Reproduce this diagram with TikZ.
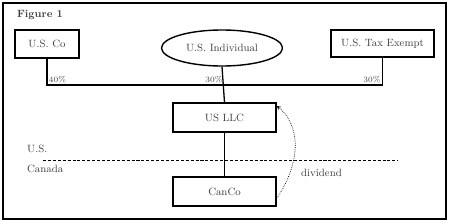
\documentclass[tikz,border=0pt]{standalone}
\usetikzlibrary{shapes.geometric}
\begin{document}
\begin{tikzpicture}[x=0.3mm, y=0.3mm, >=stealth,
        every node/.style={text=black!75},
        box/.style={rectangle, draw, line width=1.2pt, minimum width=30.9mm, minimum height=8.6mm, font=\small},
        pct/.style={font=\scriptsize, inner sep=1.5pt},
        link/.style={line width=1.1pt}]
        \useasboundingbox (0,0) rectangle (450,223);
        \draw[line width=1.2pt] (3,4) rectangle (446,220);
        \node[anchor=west, font=\small\bfseries] (fig) at (13,208) {Figure 1};

        \node[box, minimum width=19.2mm, minimum height=8.4mm] (usco) at (47,179) {U.S. Co};
        \node[ellipse, draw, line width=1.2pt, minimum width=36.3mm, minimum height=10.8mm, inner sep=0pt, font=\small] (indiv) at (222,175) {U.S. Individual};
        \node[box, minimum height=8.1mm] (taxex) at (382.5,179.5) {U.S. Tax Exempt};
        \node[box] (llc) at (224.5,105.5) {US LLC};
        \node[box] (canco) at (224.5,31.5) {CanCo};
        \coordinate (bus) at (224.5,138);

        \draw[link] (usco.south) |- (bus) -| (taxex.south);
        \draw[link] (indiv.south) -- (llc.north);
        \draw[link] (llc) -- (canco);

        \node[pct, anchor=south west] (p1) at (usco.south |- bus) {40\%};
        \node[pct, anchor=south east] (p2) at (bus) {30\%};
        \node[pct, anchor=south east] (p3) at (taxex.south |- bus) {30\%};

        % border line
        \coordinate (bl) at (43,63);
        \coordinate (br) at (398,63);
        \draw[dash pattern=on 2.6pt off 1.6pt, line width=0.7pt] (bl) -- (br);
        \node[anchor=west, font=\small] (us) at (23,74) {U.S.};
        \node[anchor=west, font=\small] (ca) at (23,54) {Canada};

        \draw[->, densely dotted, line width=0.6pt] ([yshift=-2mm]canco.east) to[out=55, in=-40] ([yshift=3.5mm]llc.east);
        \node[anchor=west, font=\small] (div) at (297,50) {dividend};
    \end{tikzpicture}
\end{document}
